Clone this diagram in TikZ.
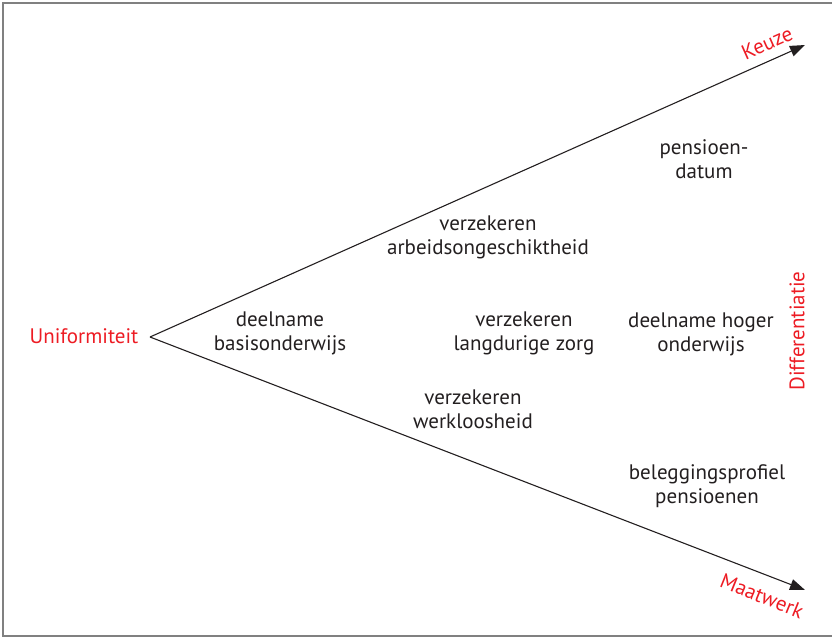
\documentclass[tikz,border=0pt]{standalone}
\usepackage{fontspec}
\setmainfont{PT Sans}
\usetikzlibrary{arrows.meta}

\definecolor{inkgray}{HTML}{231F20}
\definecolor{inkred}{HTML}{ED1C24}

\tikzset{
    label/.style={font=\fontsize{21}{24}\selectfont, align=center, text=inkgray, inner sep=0pt, anchor=base},
    axis/.style={font=\fontsize{21}{24}\selectfont, text=inkred, inner sep=0pt},
    arm/.style={draw=inkgray, line width=1.1pt, -{Triangle[length=15pt,width=11pt]}}
}

\begin{document}
\begin{tikzpicture}[x=1pt, y=-1pt]
    \useasboundingbox (0,0) rectangle (832,638);
    \draw[gray, line width=1.5pt] (832,3) -- (3,3) -- (3,636) -- (832,636);

    \node[axis, anchor=base] (uni) at (84,343) {Uniformiteit};
    \coordinate (apex) at (150,337);
    \coordinate (keuzetip) at (805,45);
    \coordinate (maattip) at (805,590);
    \draw[arm] (apex) -- (keuzetip);
    \draw[arm] (apex) -- (maattip);

    \node[axis, rotate=24] (keuze) at (767,43) {Keuze};
    \node[axis, rotate=-22] (maat) at (762,596) {Maatwerk};
    \node[axis, rotate=90] (diff) at (797,331) {Differentiatie};

    % anchor=base sits on the last line
    \node[label] (pens) at (704,178) {pensioen-\\datum};
    \node[label] (arbeid) at (488,254) {verzekeren\\arbeidsongeschiktheid};
    \node[label] (basis) at (280,350) {deelname\\basisonderwijs};
    \node[label] (zorg) at (524,350) {verzekeren\\langdurige zorg};
    \node[label] (hoger) at (701,351) {deelname hoger\\onderwijs};
    \node[label] (werk) at (473,428) {verzekeren\\werkloosheid};
    \node[label] (beleg) at (707,503) {beleggingsprofiel\\pensioenen};
\end{tikzpicture}
\end{document}
